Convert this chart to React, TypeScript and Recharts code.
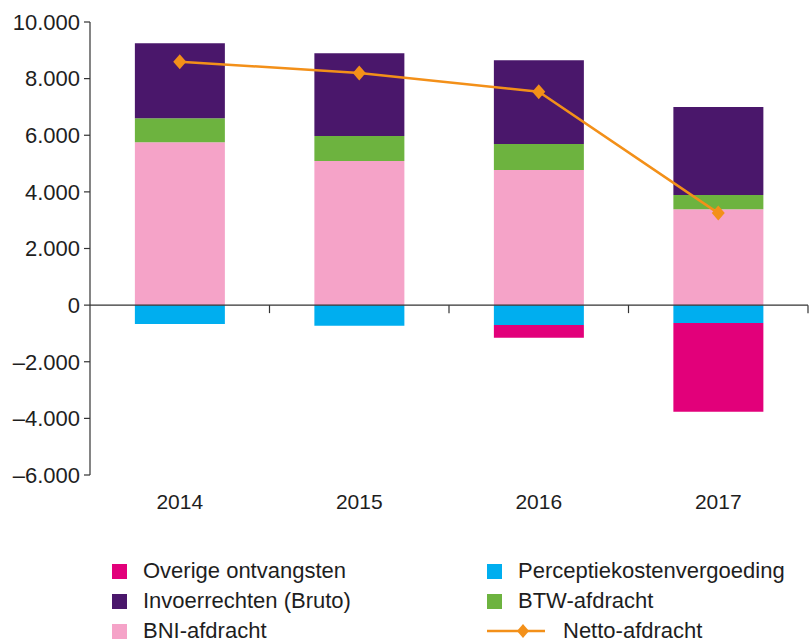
import React from 'react';
import { ComposedChart, Bar, Line, XAxis, YAxis, ReferenceLine } from 'recharts';

const years = ['2014', '2015', '2016', '2017'];

// bedragen in miljoen euro
const bniAfdracht = [5750, 5090, 4770, 3390];
const btwAfdracht = [850, 880, 920, 500];
const invoerrechten = [2650, 2930, 2960, 3110];
const perceptiekosten = [-670, -730, -700, -630];
const overigeOntvangsten = [0, 0, -450, -3140];
const nettoAfdracht = [8600, 8200, 7540, 3250];

const yTicks = [-6000, -4000, -2000, 0, 2000, 4000, 6000, 8000, 10000];

const COLORS = {
  overige: '#e2007a',
  perceptie: '#00aeef',
  invoer: '#4a176b',
  btw: '#6db33f',
  bni: '#f5a3c8',
  netto: '#f39019',
};

const FONT = '"Liberation Sans", Arial, sans-serif';
const TEXT = '#1e1e1e';
const W = 809;
const H = 642;
const PLOT_TOP = 22;
const PLOT_BOTTOM = 475;
const Y_MIN = -6000;
const Y_MAX = 10000;
const ZERO_Y = PLOT_TOP + ((Y_MAX - 0) / (Y_MAX - Y_MIN)) * (PLOT_BOTTOM - PLOT_TOP);

const data = years.map((year, i) => ({
  year,
  bni: bniAfdracht[i],
  btw: btwAfdracht[i],
  invoer: invoerrechten[i],
  perceptie: perceptiekosten[i],
  overige: overigeOntvangsten[i],
  netto: nettoAfdracht[i],
}));

const legendItems = [
  { label: 'Overige ontvangsten', color: COLORS.overige, kind: 'box' },
  { label: 'Perceptiekostenvergoeding', color: COLORS.perceptie, kind: 'box' },
  { label: 'Invoerrechten (Bruto)', color: COLORS.invoer, kind: 'box' },
  { label: 'BTW-afdracht', color: COLORS.btw, kind: 'box' },
  { label: 'BNI-afdracht', color: COLORS.bni, kind: 'box' },
  { label: 'Netto-afdracht', color: COLORS.netto, kind: 'line' },
];

const formatNumber = (v: number) => {
  const s = Math.abs(v).toString().replace(/\B(?=(\d{3})+(?!\d))/g, '.');
  return v < 0 ? '\u2013' + s : s;
};

const YearTick = (props: any) => {
  const { x, y, payload } = props;
  const half = payload && payload.offset ? payload.offset : 89.75;
  return (
    <g>
      <line x1={x + half} x2={x + half} y1={ZERO_Y} y2={ZERO_Y + 8} stroke="#333" strokeWidth={1.2} />
      <text x={x} y={y + 26} textAnchor="middle" fontSize={21} fill={TEXT} fontFamily={FONT}>
        {payload.value}
      </text>
    </g>
  );
};

const Diamond = (props: any) => {
  const { cx, cy, index } = props;
  if (cx == null || cy == null) return null;
  return (
    <path
      key={`d-${index}`}
      d={`M${cx},${cy - 7.5} L${cx + 6.5},${cy} L${cx},${cy + 7.5} L${cx - 6.5},${cy} Z`}
      fill={COLORS.netto}
    />
  );
};

const LegendBlock = () => (
  <div
    style={{
      position: 'absolute',
      left: 112,
      top: 556,
      display: 'grid',
      gridTemplateColumns: '375px 320px',
      fontFamily: FONT,
      fontSize: 22,
      color: TEXT,
    }}
  >
    {legendItems.map((item) => (
      <div key={item.label} style={{ display: 'flex', alignItems: 'center', height: 30, whiteSpace: 'nowrap' }}>
        {item.kind === 'box' ? (
          <span style={{ width: 15, height: 15, background: item.color, marginRight: 16, display: 'inline-block' }} />
        ) : (
          <svg width={58} height={16} style={{ marginRight: 18 }}>
            <line x1={0} x2={58} y1={8} y2={8} stroke={item.color} strokeWidth={2.5} />
            <path d="M36,1 L42,8 L36,15 L30,8 Z" fill={item.color} />
          </svg>
        )}
        <span>{item.label}</span>
      </div>
    ))}
  </div>
);

export default function App() {
  return (
    <div style={{ position: 'absolute', left: 0, top: 0, width: W, height: H, background: '#fff' }}>
      <ComposedChart
        width={W}
        height={H}
        data={data}
        stackOffset="sign"
        barCategoryGap="25%"
        margin={{ top: PLOT_TOP, right: 1, left: 0, bottom: H - PLOT_BOTTOM - 30 }}
      >
        <XAxis
          dataKey="year"
          height={30}
          axisLine={false}
          tickLine={false}
          tick={<YearTick />}
          interval={0}
        />
        <YAxis
          width={90}
          domain={[Y_MIN, Y_MAX]}
          ticks={yTicks}
          interval={0}
          tickFormatter={formatNumber}
          tickSize={6}
          tickMargin={4}
          axisLine={{ stroke: '#333', strokeWidth: 1.2 }}
          tickLine={{ stroke: '#333', strokeWidth: 1.2 }}
          tick={{ fontSize: 22, fill: TEXT, fontFamily: FONT }}
        />
        <Bar dataKey="bni" stackId="a" fill={COLORS.bni} isAnimationActive={false} />
        <Bar dataKey="btw" stackId="a" fill={COLORS.btw} isAnimationActive={false} />
        <Bar dataKey="invoer" stackId="a" fill={COLORS.invoer} isAnimationActive={false} />
        <Bar dataKey="perceptie" stackId="a" fill={COLORS.perceptie} isAnimationActive={false} />
        <Bar dataKey="overige" stackId="a" fill={COLORS.overige} isAnimationActive={false} />
        <ReferenceLine y={0} stroke="#333" strokeWidth={1.2} />
        <Line
          dataKey="netto"
          type="linear"
          stroke={COLORS.netto}
          strokeWidth={2.5}
          dot={<Diamond />}
          activeDot={false}
          isAnimationActive={false}
        />
      </ComposedChart>
      <LegendBlock />
    </div>
  );
}
